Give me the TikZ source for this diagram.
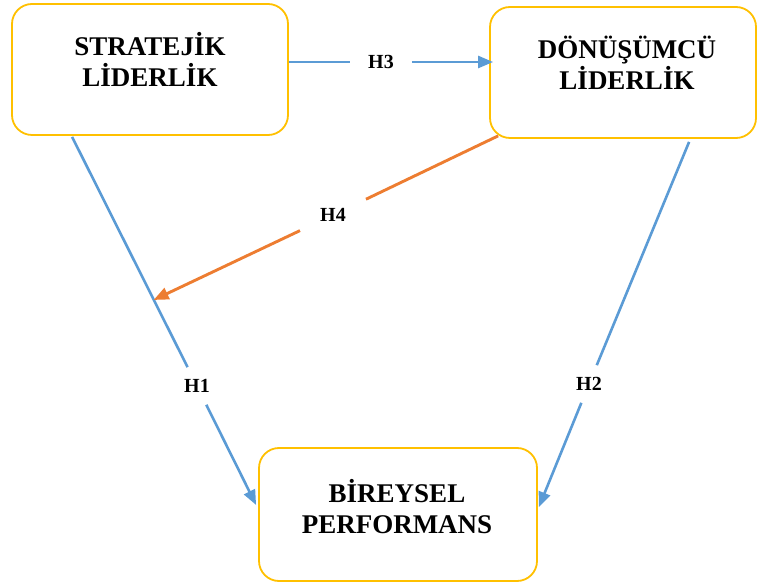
\documentclass[tikz,border=0pt]{standalone}
\usepackage{fontspec}
\setmainfont{Liberation Serif}
\usetikzlibrary{arrows.meta,calc}
\definecolor{boxgold}{HTML}{FFC000}
\definecolor{lineblue}{HTML}{5B9BD5}
\definecolor{lineorange}{HTML}{ED7D31}
\begin{document}
\begin{tikzpicture}[x=1pt,y=1pt,
  varbox/.style={draw=boxgold, line width=1.8pt, rounded corners=20pt, fill=white, inner sep=0pt},
  vartext/.style={font=\fontsize{27}{31}\selectfont\bfseries, align=center, inner sep=0pt},
  hlabel/.style={font=\fontsize{20}{22}\selectfont\bfseries, fill=none, inner xsep=18pt, inner ysep=12pt},
  blueline/.style={draw=lineblue, line width=2.6pt},
  orangeline/.style={draw=lineorange, line width=2.9pt},
  tip/.style={-{Triangle[length=15pt,width=12pt]}}
]
\useasboundingbox (0,0) rectangle (757,584);
% boxes
\node[varbox, minimum width=276pt, minimum height=131pt] (b1) at (150,514.5) {};
\node[varbox, minimum width=266pt, minimum height=131pt] (b2) at (623,511.5) {};
\node[varbox, minimum width=278pt, minimum height=133pt] (b3) at (398,69.5) {};
% box texts
\node[vartext] (t1) at (150,525) {STRATEJİK\\LİDERLİK};
\node[vartext] (t2) at (627,521.5) {DÖNÜŞÜMCÜ\\LİDERLİK};
\node[vartext] (t3) at (397,77) {BİREYSEL\\PERFORMANS};
% labels
\node[hlabel] (h3) at (381,522) {H3};
\node[hlabel] (h1) at (197,198) {H1};
\node[hlabel] (h2) at (589,200) {H2};
\node[hlabel, inner xsep=20pt] (h4) at (333,369) {H4};
% connector end points
\coordinate (h3s) at ($(b1.east)+(0,7.5)$);
\coordinate (h3e) at ($(b2.west)+(4,10.5)$);
\coordinate (h1s) at ($(b1.south west)+(61,-1)$);
\coordinate (h1e) at ($(b3.west)+(-2,9.5)$);
\coordinate (h2s) at ($(b2.south west)+(200,-3)$);
\coordinate (h2e) at ($(b3.east)+(1,7.5)$);
\coordinate (h4s) at ($(b2.south west)+(9,3)$);
\coordinate (h4e) at ($(h1s)!0.443!(h1e)$);
% connectors
\draw[blueline] (h3s) -- (h3);
\draw[blueline, tip] (h3) -- (h3e);
\draw[blueline] (h1s) -- (h1);
\draw[blueline, tip] (h1) -- (h1e);
\draw[blueline] (h2s) -- (h2);
\draw[blueline, tip] (h2) -- (h2e);
\draw[orangeline] (h4s) -- (h4);
\draw[orangeline, tip] (h4) -- (h4e);
\end{tikzpicture}
\end{document}
